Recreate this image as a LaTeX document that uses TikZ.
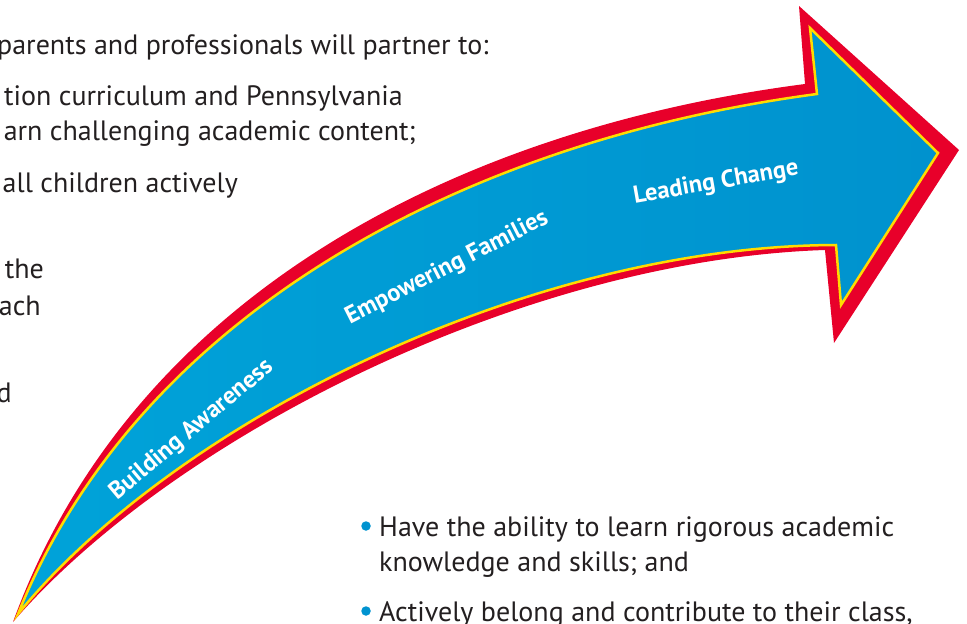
\documentclass[tikz,border=0pt]{standalone}
\usepackage{fontspec}
\setmainfont{PT Sans}
\usetikzlibrary{shapes, arrows}

\definecolor{arrowred}{RGB}{232,0,42}
\definecolor{arrowyellow}{RGB}{255,220,0}
\definecolor{arrowblue}{RGB}{0,163,217}
\definecolor{arrowbluedark}{RGB}{0,146,206}
\definecolor{inktext}{RGB}{35,31,32}
\definecolor{dotblue}{RGB}{0,147,208}

\begin{document}
\begin{tikzpicture}[x=1pt,y=-1pt]

\tikzstyle{bodytext} = [font=\fontsize{28}{35}\selectfont, text=inktext, inner sep=0pt]
\tikzstyle{stage} = [font=\fontsize{24.5}{28}\selectfont\bfseries, text=white, inner sep=0pt]
\tikzstyle{bulletdot} = [circle, fill=dotblue, inner sep=0pt, minimum size=9.5pt]

\useasboundingbox (0,0) rectangle (967,624);

% red outline of the arrow
\path [fill=arrowred] (13,622) .. controls (130,300) and (450,130) .. (805,84) -- (799,6) -- (959,150) -- (834,343) -- (825,250) .. controls (520,260) and (170,440) .. (13,622) -- cycle;

% blue body with yellow edge
\path [left color=arrowblue, right color=arrowbluedark, draw=arrowyellow, line width=2.5pt, line join=miter] (18,614) .. controls (140,310) and (470,140) .. (817,94) -- (810,28) -- (938,153) -- (841,305) -- (836,245) .. controls (525,246) and (172,425) .. (18,614) -- cycle;

\node (awareness) [stage, rotate=40] at (192,430) {Building Awareness};
\node (families) [stage, rotate=27] at (447,268) {Empowering Families};
\node (change) [stage, rotate=10] at (716,183) {Leading Change};

\node (partner) [bodytext, anchor=base west] at (-3,54) {parents and professionals will partner to:};
\node (curriculum) [bodytext, anchor=base east] at (403,105) {tion curriculum and Pennsylvania};
\node (content) [bodytext, anchor=base east] at (416,140) {arn challenging academic content;};
\node (actively) [bodytext, anchor=base east] at (238,192) {all children actively};
\node (the) [bodytext, anchor=base east] at (44,278) {the};
\node (ach) [bodytext, anchor=base east] at (41,315) {ach};
\node (d) [bodytext, anchor=base east] at (12,402) {d};

\node (dot1) [bulletdot] at (366,526) {};
\node (ability) [bodytext, anchor=base west] at (379,536) {Have the ability to learn rigorous academic};
\node (skills) [bodytext, anchor=base west] at (379,571) {knowledge and skills; and};
\node (dot2) [bulletdot] at (366,611) {};
\node (belong) [bodytext, anchor=base west] at (379,621) {Actively belong and contribute to their class,};

\end{tikzpicture}
\end{document}
